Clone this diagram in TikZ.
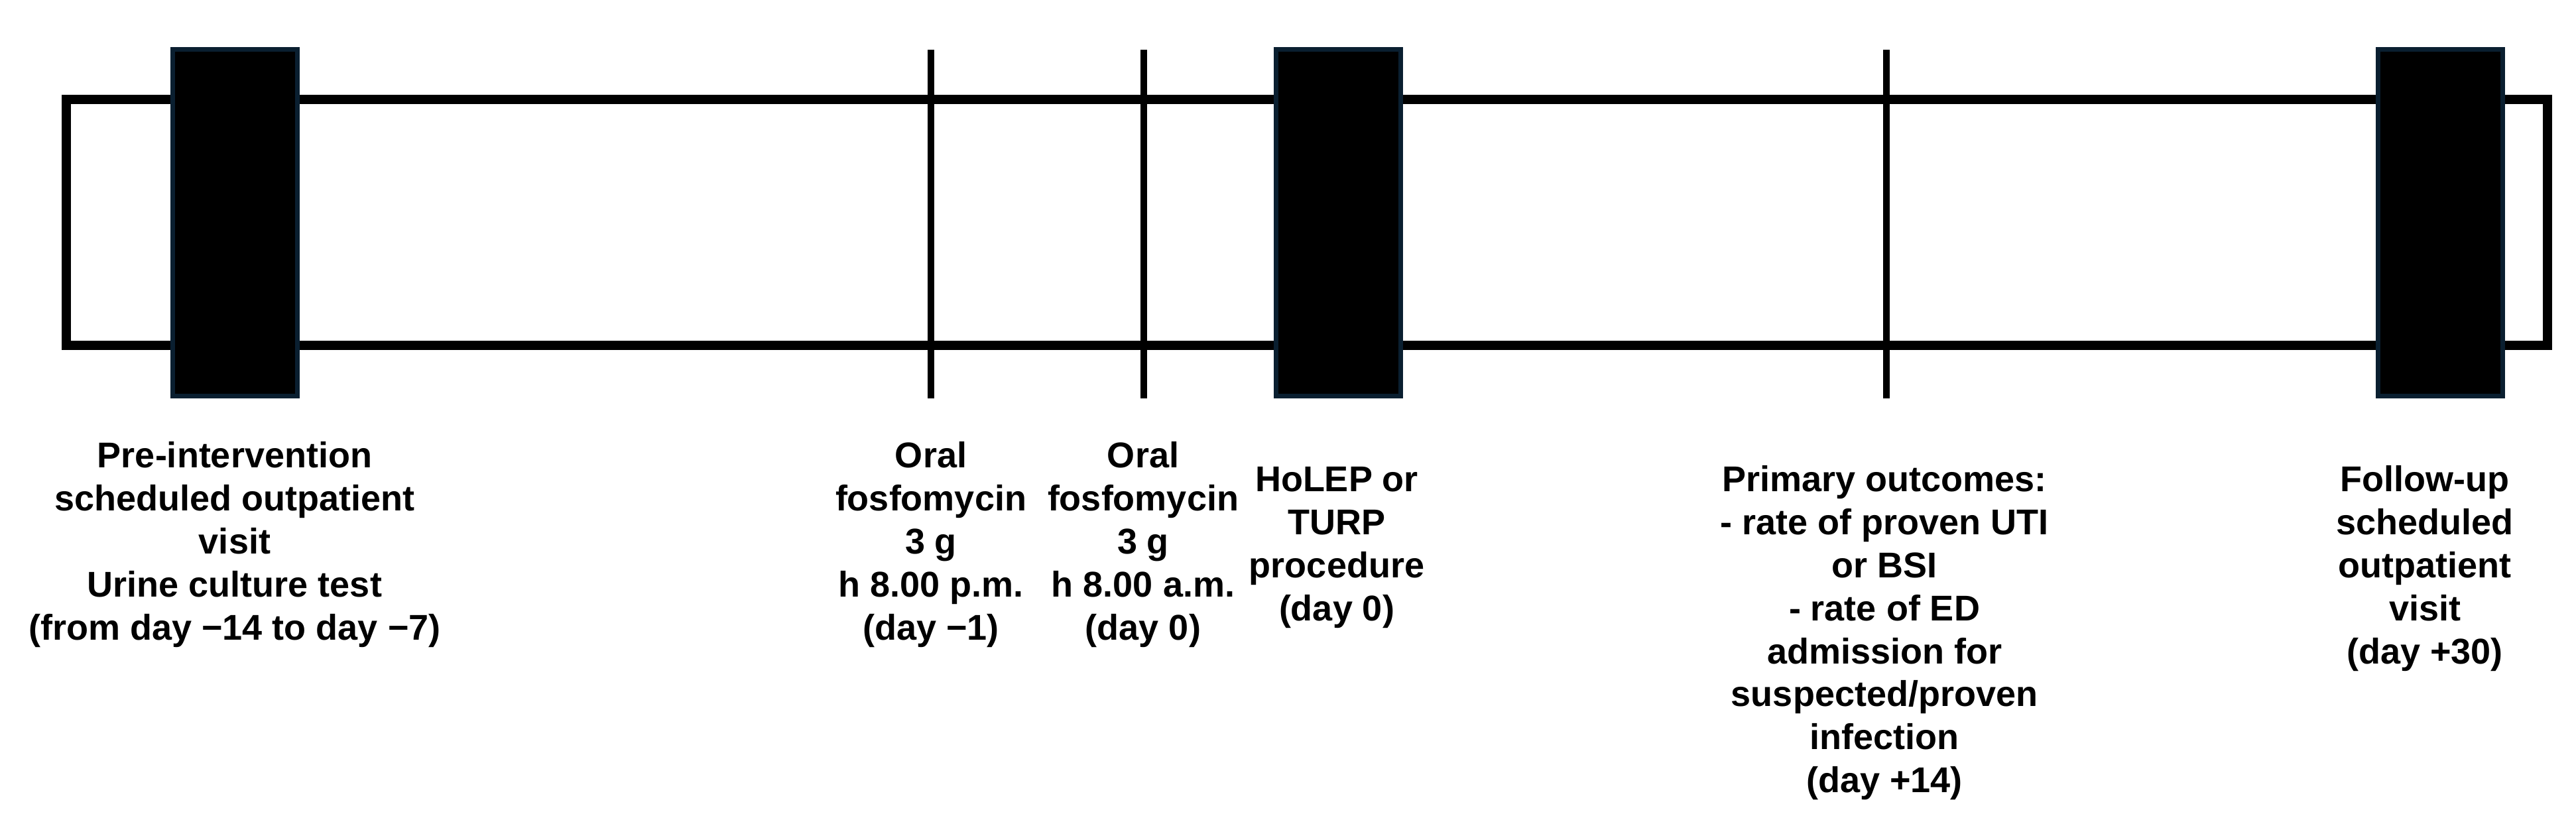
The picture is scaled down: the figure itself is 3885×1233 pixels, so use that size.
\documentclass[tikz,border=0pt]{standalone}
\usepackage{fontspec}
\setmainfont{Liberation Sans}
\definecolor{boxedge}{RGB}{10,31,48}
\tikzset{
  evbox/.style={draw=boxedge, fill=black, line width=1.75pt, minimum width=47pt, minimum height=130.75pt, inner sep=0pt, outer sep=0pt},
  tlline/.style={line width=2.4pt, draw=black},
  outerframe/.style={line width=3.5pt, draw=black},
  lbl/.style={align=center, font=\bfseries\fontsize{13.5}{16.2}\selectfont, inner sep=0pt, anchor=north}
}
\begin{document}
\begin{tikzpicture}[x=0.25pt, y=-0.25pt]
\useasboundingbox (0,0) rectangle (3885,1233);
\draw[outerframe] (100,150) rectangle (3842,521);
\coordinate (t1a) at (1404,75); \coordinate (t1b) at (1404,601);
\coordinate (t2a) at (1725,75); \coordinate (t2b) at (1725,601);
\coordinate (t3a) at (2845,75); \coordinate (t3b) at (2845,601);
\draw[tlline] (t1a) -- (t1b);
\draw[tlline] (t2a) -- (t2b);
\draw[tlline] (t3a) -- (t3b);
\node[evbox] (b1) at (354.5,336) {};
\node[evbox] (b2) at (2018.5,336) {};
\node[evbox] (b3) at (3680.5,336) {};
\node[lbl] (l1) at (354,666) {Pre-intervention\\scheduled outpatient\\visit\\Urine culture test\\(from day −14 to day −7)};
\node[lbl] (l2) at (1404,666) {Oral\\fosfomycin\\3 g\\h 8.00 p.m.\\(day −1)};
\node[lbl] (l3) at (1724,666) {Oral\\fosfomycin\\3 g\\h 8.00 a.m.\\(day 0)};
\node[lbl] (l4) at (2016,704) {HoLEP or\\TURP\\procedure\\(day 0)};
\node[lbl] (l5) at (2842,702) {Primary outcomes:\\- rate of proven UTI\\or BSI\\- rate of ED\\admission for\\suspected/proven\\infection\\(day +14)};
\node[lbl] (l6) at (3657,702) {Follow-up\\scheduled\\outpatient\\visit\\(day +30)};
\end{tikzpicture}
\end{document}
